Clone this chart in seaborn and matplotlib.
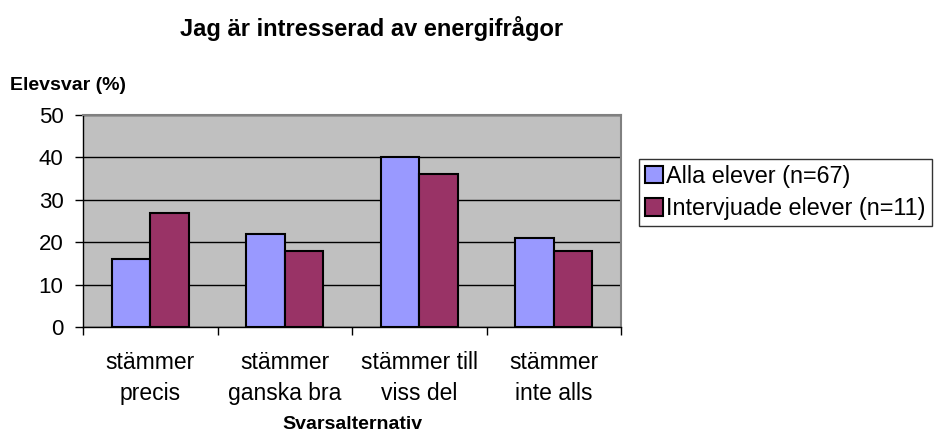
import pandas as pd
import seaborn as sns
import matplotlib.pyplot as plt

categories = ["stämmer\nprecis", "stämmer\nganska bra", "stämmer till\nviss del", "stämmer\ninte alls"]
alla = [16, 22, 40, 21]
intervjuade = [27, 18, 36, 18]
series_names = ["Alla elever (n=67)", "Intervjuade elever (n=11)"]
colors = ["#9999FF", "#993366"]

df = pd.DataFrame({
    "kategori": categories * 2,
    "serie": [series_names[0]] * 4 + [series_names[1]] * 4,
    "varde": alla + intervjuade,
})

sns.set_style("white")
plt.rcParams["font.family"] = ["Liberation Sans", "DejaVu Sans"]
plt.rcParams["text.color"] = "black"
plt.rcParams["xtick.color"] = "black"
plt.rcParams["ytick.color"] = "black"
plt.rcParams["axes.labelcolor"] = "black"

fig = plt.figure(figsize=(9.35, 4.36), dpi=100)
ax = fig.add_axes([0.0888, 0.25, 0.5754, 0.4862])
ax.set_facecolor("#C0C0C0")

sns.barplot(data=df, x="kategori", y="varde", hue="serie", palette=colors,
            width=0.575, edgecolor="black", linewidth=1.5, saturation=1,
            ax=ax, zorder=3)

ax.set_ylim(0, 50)
ax.set_yticks([0, 10, 20, 30, 40, 50])
ax.set_xlim(-0.5, 3.5)
ax.yaxis.grid(True, color="black", linewidth=1, zorder=0)
ax.set_axisbelow(True)

for s in ["top", "right"]:
    ax.spines[s].set_color("#808080")
    ax.spines[s].set_linewidth(1.5)
for s in ["left", "bottom"]:
    ax.spines[s].set_color("black")
    ax.spines[s].set_linewidth(1)

ax.tick_params(axis="y", labelsize=16, direction="out", length=6, width=1, left=True, pad=8)
ax.set_xticks([0, 1, 2, 3])
ax.set_xticklabels(categories, fontsize=16.5, linespacing=1.45)
ax.set_xticks([-0.5, 0.5, 1.5, 2.5, 3.5], minor=True)
ax.tick_params(axis="x", which="major", length=0, pad=17)
ax.tick_params(axis="x", which="minor", length=6, width=1, direction="out", bottom=True)

ax.set_xlabel("")
ax.set_ylabel("")

fig.text(0.397, 0.935, "Jag är intresserad av energifrågor", ha="center", va="center",
         fontsize=17, fontweight="bold")
fig.text(0.011, 0.805, "Elevsvar (%)", ha="left", va="center", fontsize=14, fontweight="bold")
fig.text(0.3765, 0.027, "Svarsalternativ", ha="center", va="center", fontsize=14, fontweight="bold")

leg = ax.legend(loc="center left", bbox_to_anchor=(0.6834, 0.5585), bbox_transform=fig.transFigure,
                fontsize=16.8, frameon=True, fancybox=False, edgecolor="black",
                handlelength=0.75, handleheight=0.75, handletextpad=0.16, borderpad=0.26,
                labelspacing=0.4, borderaxespad=0)
leg.get_frame().set_linewidth(1)

fig.savefig("out.png", dpi=100)
